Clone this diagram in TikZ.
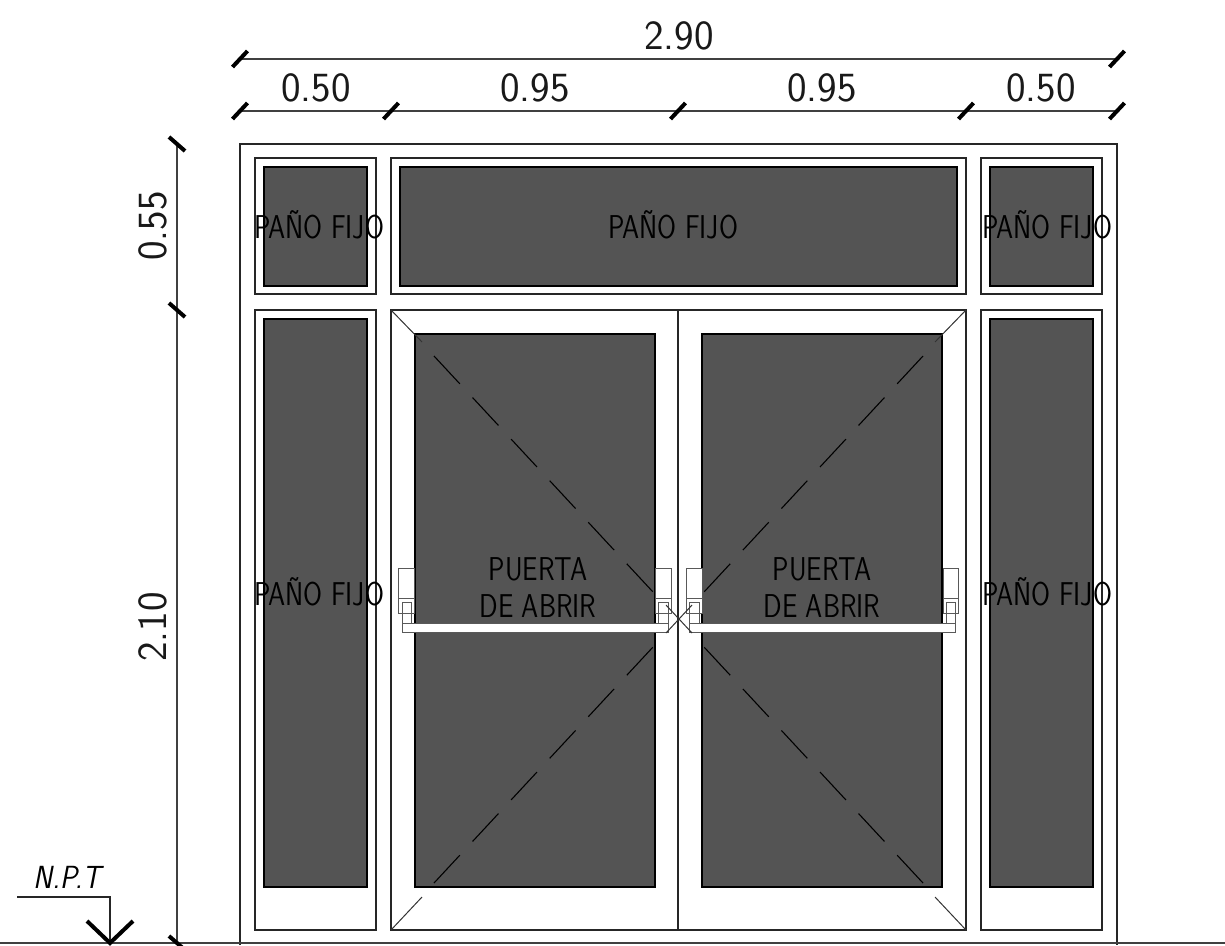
\documentclass[tikz,border=0pt]{standalone}
\tikzset{
  frameline/.style={draw=black!85,line width=1.3pt},
  glass/.style={draw=black,fill=black!67,line width=1.3pt},
  dimline/.style={draw=black!75,line width=1.3pt},
  tickline/.style={draw=black,line width=4pt},
  swingsolid/.style={draw=black!80,line width=1pt},
  swing/.style={draw=black,line width=1.1pt,dash pattern=on 38pt off 18.7pt},
  hardware/.style={draw=black!65,line width=1pt},
  barfill/.style={draw=black!65,fill=white,line width=1pt},
  dimtext/.style={inner sep=0pt,font=\sffamily\fontsize{41.5}{41.5}\selectfont,text=black!90},
  lab/.style={inner sep=0pt,xscale=0.83,font=\sffamily\fontsize{33}{37}\selectfont,align=center,text=black},
}
\begin{document}
\begin{tikzpicture}[x=1pt,y=-1pt]
\useasboundingbox (0,0) rectangle (1225,945);
% outer frame
\draw[frameline] (240,945) -- (240,144) -- (1117,144) -- (1117,945);
\draw[dimline] (0,943) -- (1225,943);
% panels
\draw[frameline] (255,158) rectangle (376,294);
\draw[frameline] (391,158) rectangle (966,294);
\draw[frameline] (981,158) rectangle (1102,294);
\draw[frameline] (255,310) rectangle (376,930);
\draw[frameline] (391,310) rectangle (966,930);
\draw[frameline] (981,310) rectangle (1102,930);
\draw[frameline] (678,310) -- (678,930);
% glass
\draw[glass] (264,167) rectangle (367,286);
\draw[glass] (400,167) rectangle (957,286);
\draw[glass] (990,167) rectangle (1093,286);
\draw[glass] (264,319) rectangle (367,887);
\draw[glass] (990,319) rectangle (1093,887);
\draw[glass] (415,334) rectangle (655,887);
\draw[glass] (702,334) rectangle (942,887);
% swing diagonals
\draw[swingsolid] (391,310) -- (422,342);
\draw[swingsolid] (391,930) -- (422,897);
\draw[swingsolid] (966,310) -- (935,342);
\draw[swingsolid] (966,930) -- (935,897);
\draw[swing] (434,356) -- (653,592);
\draw[swing] (434,883) -- (653,647);
\draw[swing] (923,356) -- (704,592);
\draw[swing] (923,883) -- (704,647);
% hardware
\foreach \a/\b/\c/\d in {398/414/402/411,655/671/658/668,686/702/689/699,943/958/946/955}{
  \draw[hardware,fill=white] (\a,568) rectangle (\b,613);
  \draw[hardware] (\a,598) -- (\b,598);
  \draw[hardware] (\c,602) rectangle (\d,632);
}
\draw[barfill] (402,623) rectangle (668,632);
\draw[barfill] (689,623) rectangle (955,632);
% swing X over the bar
\draw[swingsolid] (666,633) -- (692,605) (666,605) -- (692,633);
% dimensions
\coordinate (h1) at (240,59); \coordinate (h2) at (1117,59);
\coordinate (a0) at (240,111); \coordinate (a1) at (391,111); \coordinate (a2) at (678,111);
\coordinate (a3) at (966,111); \coordinate (a4) at (1117,111);
\coordinate (v0) at (177,144); \coordinate (v1) at (177,310); \coordinate (v2) at (177,943);
\draw[dimline] (h1) -- (h2);
\draw[dimline] (a0) -- (a4);
\draw[dimline] (v0) -- (v2);
\foreach \p in {h1,h2,a0,a1,a2,a3,a4}{
  \draw[tickline] ([shift={(-7.5,8)}]\p) -- ([shift={(7.5,-8)}]\p);
}
\foreach \p in {v0,v1,v2}{
  \draw[tickline] ([shift={(-8,-7)}]\p) -- ([shift={(8,7)}]\p);
}
\node[dimtext] (t290) at (679,36) {2.90};
\node[dimtext] (t050a) at (316,88) {0.50};
\node[dimtext] (t095a) at (535,88) {0.95};
\node[dimtext] (t095b) at (822,88) {0.95};
\node[dimtext] (t050b) at (1041,88) {0.50};
\node[dimtext,rotate=90] (t055) at (153,226) {0.55};
\node[dimtext,rotate=90] (t210) at (153,627) {2.10};
% labels
\node[lab] (p1) at (319,225) {PAÑO FIJO};
\node[lab] (p2) at (673,225) {PAÑO FIJO};
\node[lab] (p3) at (1047,225) {PAÑO FIJO};
\node[lab] (p4) at (319,592) {PAÑO FIJO};
\node[lab] (p5) at (1047,592) {PAÑO FIJO};
\node[lab] (d1) at (538,588) {PUERTA\\DE ABRIR};
\node[lab] (d2) at (822,588) {PUERTA\\DE ABRIR};
% level mark
\node[inner sep=0pt,font=\sffamily\itshape\fontsize{32}{32}\selectfont,xscale=0.9] (npt) at (67,877) {N.P.T};
\coordinate (l0) at (17,897); \coordinate (l1) at (110,897); \coordinate (l2) at (110,943);
\draw[draw=black!85,line width=1.3pt] (l0) -- (l1) -- (l2);
\draw[tickline] (87,921) -- (l2) -- (133,921);
\end{tikzpicture}
\end{document}
